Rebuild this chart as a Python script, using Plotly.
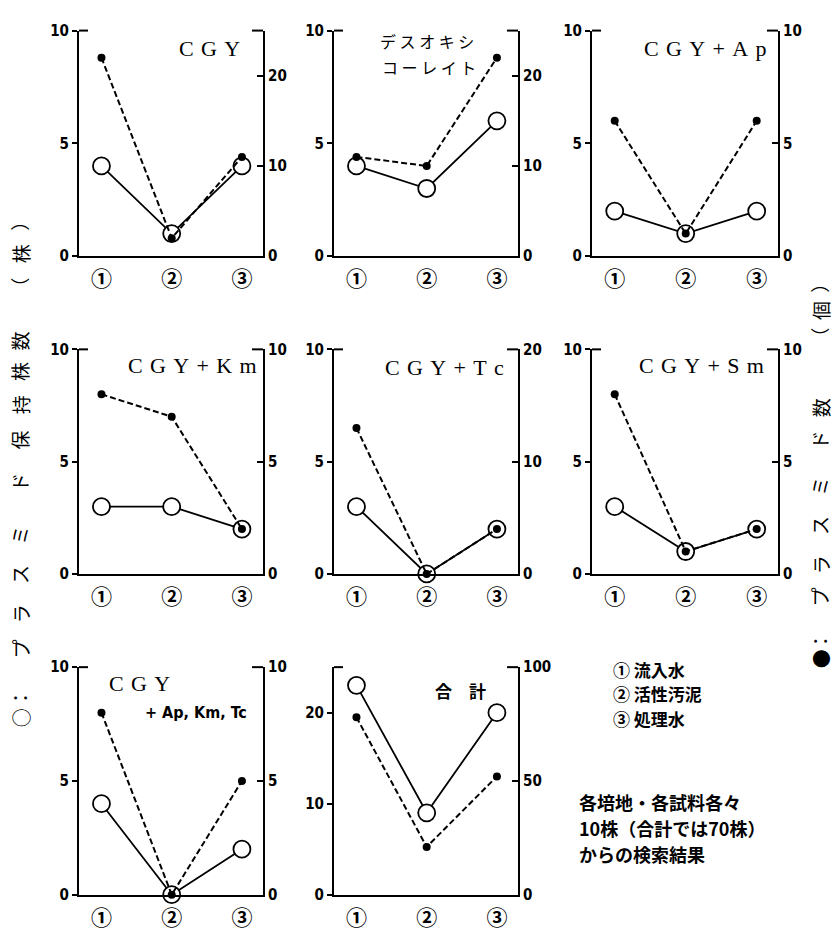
import plotly.graph_objects as go

W, H = 837, 940

# ---------------- data ----------------
categories = ["①", "②", "③"]

titles = ["CGY", "デスオキシコーレイト", "CGY+Ap", "CGY+Km", "CGY+Tc", "CGY+Sm",
          "CGY+Ap,Km,Tc", "合計"]

open_cgy = [4, 1, 4]
dot_cgy = [22, 2, 11]
open_desoxy = [4, 3, 6]
dot_desoxy = [11, 10, 22]
open_ap = [2, 1, 2]
dot_ap = [6, 1, 6]
open_km = [3, 3, 2]
dot_km = [8, 7, 2]
open_tc = [3, 0, 2]
dot_tc = [13, 0, 4]
open_sm = [3, 1, 2]
dot_sm = [8, 1, 2]
open_apkmtc = [4, 0, 2]
dot_apkmtc = [8, 0, 5]
open_total = [23, 9, 20]
dot_total = [78, 21, 52]

left_max = [10, 10, 10, 10, 10, 10, 10, 25]
right_max = [25, 25, 10, 10, 20, 10, 10, 100]
left_ticks = [[0, 5, 10]] * 7 + [[0, 10, 20]]
right_ticks = [[0, 10, 20], [0, 10, 20], [0, 5, 10], [0, 5, 10], [0, 10, 20],
               [0, 5, 10], [0, 5, 10], [0, 50, 100]]

left_title = "○：プラスミド保持株数（株）"
right_title = "●：プラスミド数（個）"
site_labels = ["① 流入水", "② 活性汚泥", "③ 処理水"]
note_lines = ["各培地・各試料各々", "10株（合計では70株）", "からの検索結果"]

open_series = [open_cgy, open_desoxy, open_ap, open_km, open_tc, open_sm, open_apkmtc, open_total]
dot_series = [dot_cgy, dot_desoxy, dot_ap, dot_km, dot_tc, dot_sm, dot_apkmtc, dot_total]

# ---------------- layout helpers (positions / styles) ----------------
def px(x):
    return x / W

def py(y):
    return 1 - y / H

cols = [(79, 263), (334, 518), (592, 778)]
rows = [(22, 252), (347, 576), (671, 903)]
cells = [(0, 0), (0, 1), (0, 2), (1, 0), (1, 1), (1, 2), (2, 0), (2, 1)]

# vertical character positions (page pixels) for the rotated side titles
left_title_y = [723, 703, 653, 617, 577, 537, 483, 440, 404, 370, 339, 284, 250, 217]
right_title_y = [663, 645, 600, 567, 527, 487, 440, 407, 335, 308, 280]

NUMFONT = dict(family="Liberation Sans Narrow, DejaVu Sans Condensed, Arial Narrow, sans-serif",
               size=15, color="black", weight="bold")
JP = "Noto Sans CJK JP"
SERIF = "Liberation Serif, DejaVu Serif, serif"

fig = go.Figure()
layout = dict(width=W, height=H, margin=dict(l=0, r=0, t=0, b=0),
              paper_bgcolor="white", plot_bgcolor="white", showlegend=False)
shapes = []
annotations = []

for k, (r, c) in enumerate(cells):
    n = k + 1
    xa = "x" if n == 1 else f"x{n}"
    yl_id = 2 * n - 1
    yr_id = 2 * n
    yl = "y" if yl_id == 1 else f"y{yl_id}"
    yr = f"y{yr_id}"
    x0, x1 = cols[c]
    y0, y1 = rows[r]

    layout["xaxis" if n == 1 else f"xaxis{n}"] = dict(
        domain=[px(x0), px(x1)], anchor=yl, type="category",
        range=[-0.32, 2.3], showgrid=False, zeroline=False,
        showline=True, linecolor="black", linewidth=2,
        ticks="outside", ticklen=3, tickcolor="rgba(0,0,0,0)",
        tickfont=dict(family=JP, size=21, color="black", weight="bold"),
        fixedrange=True)
    layout["yaxis" if yl_id == 1 else f"yaxis{yl_id}"] = dict(
        domain=[py(y1), py(y0)], anchor=xa, range=[0, left_max[k]],
        tickvals=left_ticks[k], showgrid=False, zeroline=False,
        showline=True, linecolor="black", linewidth=2,
        ticks="outside", ticklen=5, tickwidth=2, tickcolor="black",
        tickfont=NUMFONT, fixedrange=True)
    layout[f"yaxis{yr_id}"] = dict(
        overlaying=yl, anchor=xa, side="right", range=[0, right_max[k]],
        tickvals=right_ticks[k], showgrid=False, zeroline=False,
        showline=True, linecolor="black", linewidth=2,
        ticks="inside", ticklen=6, tickwidth=2, tickcolor="black",
        tickfont=NUMFONT, fixedrange=True)

    fig.add_trace(go.Scatter(
        x=categories, y=open_series[k], xaxis=xa, yaxis=yl, mode="lines+markers",
        line=dict(color="black", width=1.8),
        marker=dict(symbol="circle", size=17, color="white",
                    line=dict(color="black", width=1.8)),
        cliponaxis=False, hoverinfo="skip"))
    fig.add_trace(go.Scatter(
        x=categories, y=dot_series[k], xaxis=xa, yaxis=yr, mode="lines+markers",
        line=dict(color="black", width=2, dash="6px,3px"),
        marker=dict(symbol="circle", size=8, color="black"),
        cliponaxis=False, hoverinfo="skip"))

    # top corner stubs
    shapes.append(dict(type="line", xref=f"{xa} domain", yref=f"{yl} domain",
                       x0=0, x1=9 / (x1 - x0), y0=1, y1=1,
                       line=dict(color="black", width=2)))
    shapes.append(dict(type="line", xref=f"{xa} domain", yref=f"{yl} domain",
                       x0=1 - 11 / (x1 - x0), x1=1, y0=1, y1=1,
                       line=dict(color="black", width=2)))

layout["shapes"] = shapes

def spaced(s, sep="\u2004"):
    return sep.join(list(s))

def ann(text, x, y, font, xanchor="center", yanchor="middle", angle=0, align="center"):
    annotations.append(dict(text=text, x=px(x), y=py(y), xref="paper", yref="paper",
                            showarrow=False, font=font, xanchor=xanchor,
                            yanchor=yanchor, textangle=angle, align=align))

serif = dict(family=SERIF, size=22, color="black")
jp_title = dict(family=JP, size=16, color="black")

ann(spaced(titles[0]), 209, 40, serif)
ann(spaced(titles[1][:5], " "), 427, 33, jp_title)
ann(spaced(titles[1][5:], " "), 429, 59, jp_title)
ann(spaced(titles[2]), 705, 40, serif)
ann(spaced(titles[3]), 192, 363, serif)
ann(spaced(titles[4]), 444, 365, serif)
ann(spaced(titles[5]), 701, 363, serif)
ann(spaced(titles[6][:3]), 139, 688, serif)
ann("+ " + ", ".join(titles[6][4:].split(",")), 196, 717,
    dict(family="Liberation Sans Narrow, DejaVu Sans Condensed, sans-serif",
         size=16, color="black", weight="bold"))
ann("\u3000".join(list(titles[7])), 460, 695,
    dict(family=JP, size=17, color="black", weight="bold"))

# big vertical axis titles, one rotated character at a time
side_font = dict(family=JP, size=19, color="black")
for ch, yy in zip(left_title, left_title_y):
    ann(ch, 20, yy, side_font, angle=-90)
for ch, yy in zip(right_title, right_title_y):
    ann(ch, 820, yy, side_font, angle=-90)

# site legend and note
for i, t in enumerate(site_labels):
    ann(t, 611, 673 + 25 * i, dict(family=JP, size=17, color="black", weight="bold"),
        xanchor="left")
for i, t in enumerate(note_lines):
    ann(t, 577, 808 + 26.5 * i, dict(family=JP, size=18, color="black", weight="bold"),
        xanchor="left")

layout["annotations"] = annotations
fig.update_layout(**layout)
fig.write_html("out.html")
